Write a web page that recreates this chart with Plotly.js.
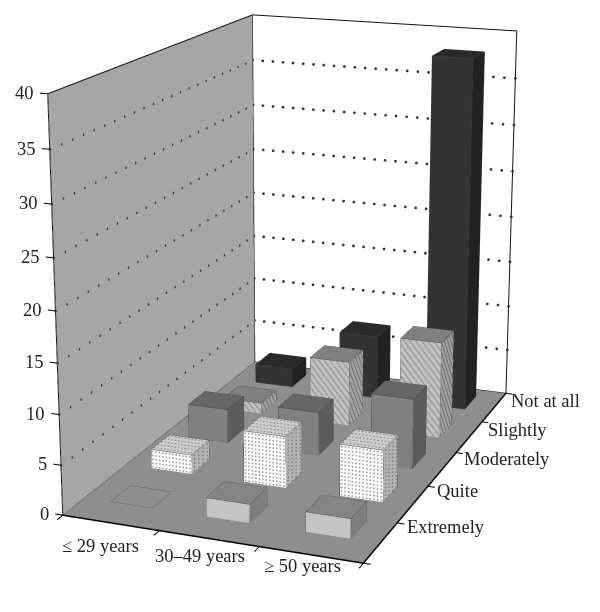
<!DOCTYPE html>
<html><head><meta charset="utf-8">
<script src="https://cdn.plot.ly/plotly-3.0.1.min.js"></script>
<style>html,body{margin:0;background:#fff;overflow:hidden;width:600px;height:612px}#w{position:absolute;left:0;top:0;width:600px;height:612px;overflow:hidden}#c{position:absolute;left:-508px;top:-566px;width:1620px;height:1652px}</style></head>
<body><div id="w"><div id="c"></div></div>
<script>
const ages = ['≤ 29 years','30–49 years','≥ 50 years'];
const levels = ['Extremely','Quite','Moderately','Slightly','Not at all'];
const extremely = [0, 1.9, 2];
const quite = [2, 5.3, 5.3];
const moderately = [3.6, 4.6, 7.3];
const slightly = [1.2, 7, 10.3];
const notAtAll = [2.1, 7, 38];
const zTicks = [0,5,10,15,20,25,30,35,40];
const series = [extremely, quite, moderately, slightly, notAtAll];
const faceFront = ['#c4c4c4','#fbfbfb','#808080','#c0c0c0','#333333'];
const faceSide  = ['#7e7e7e','#b4b4b4','#5c5c5c','#a0a0a0','#222222'];
const faceTop   = ['#858585','#cccccc','#666666','#808080','#2a2a2a'];
const fx = 0.44, fy = 0.45, zMax = 40, nx = 3, ny = 5;

const traces = [];
function quad(p, color){
  traces.push({type:'mesh3d', x:p.map(a=>a[0]), y:p.map(a=>a[1]), z:p.map(a=>a[2]),
    i:[0,0], j:[1,2], k:[2,3], color:color, flatshading:true,
    lighting:{ambient:1,diffuse:0,specular:0,roughness:1,fresnel:0}, hoverinfo:'skip', showscale:false});
}
function line(pts, color, width){
  traces.push({type:'scatter3d', mode:'lines', x:pts.map(a=>a?a[0]:null), y:pts.map(a=>a?a[1]:null), z:pts.map(a=>a?a[2]:null),
    line:{color:color,width:width}, hoverinfo:'skip', showlegend:false});
}
function pts(list,color,size){
  traces.push({type:'scatter3d',mode:'markers',x:list.map(a=>a[0]),y:list.map(a=>a[1]),z:list.map(a=>a[2]),
    marker:{size:size,color:color,line:{width:0}},hoverinfo:'skip',showlegend:false});
}
function dots(a,b,n){
  const l=[];
  for(let k=0;k<=n;k++){const f=k/n; l.push([a[0]+(b[0]-a[0])*f,a[1]+(b[1]-a[1])*f,a[2]+(b[2]-a[2])*f]);}
  pts(l,'#333',1.6);
}
function stipple(o,u,v,nu,nv,color,size){
  const l=[];
  for(let a=0;a<nu;a++)for(let b=0;b<nv;b++){
    const s=(a+0.5)/nu,t=(b+0.5)/nv;
    l.push([o[0]+u[0]*s+v[0]*t,o[1]+u[1]*s+v[1]*t,o[2]+u[2]*s+v[2]*t]);
  }
  pts(l,color,size);
}
function hatch(o,u,v,lenU,lenV,pitch,color,width){
  const segs=[];
  const total=lenU+lenV;
  for(let d=pitch/2;d<total;d+=pitch){
    const a=[Math.max(0,(d-lenV))/lenU, Math.min(1,d/lenV)];
    const b=[Math.min(1,d/lenU), Math.max(0,(d-lenU))/lenV];
    [a,b].forEach(q=>segs.push([o[0]+u[0]*q[0]+v[0]*q[1],o[1]+u[1]*q[0]+v[1]*q[1],o[2]+u[2]*q[0]+v[2]*q[1]]));
    segs.push(null);
  }
  line(segs,color,width);
}
quad([[0,0,0],[0,ny,0],[0,ny,zMax],[0,0,zMax]], '#a6a6a6');
quad([[0,0,0],[nx,0,0],[nx,ny,0],[0,ny,0]], '#8e8e8e');
zTicks.slice(1,-1).forEach(t=>{
  dots([0,0,t],[0,ny,t],22);
  dots([0,ny,t],[nx,ny,t],25);
});
line([[0,0,0],[nx,0,0],[nx,ny,0]], '#000', 3);
line([[0,0,0],[0,ny,0]], '#000', 3);
line([[0,0,0],[0,0,zMax],[0,ny,zMax],[nx,ny,zMax],[nx,ny,0]], '#111', 2);
line([[0,ny,0],[0,ny,zMax]], '#111', 2);
line([[0,ny,0],[nx,ny,0]], '#111', 2);
zTicks.forEach(t=>line([[0,0,t],[-0.08,0,t]], '#000', 2));
for(let i=0;i<=nx;i++) line([[i,0,0],[i,-0.12,0]], '#000', 2);
for(let j=0;j<=ny;j++) line([[nx,j,0],[nx+0.07,j,0]], '#000', 2);
for(let j=ny-1;j>=0;j--) for(let i=0;i<nx;i++){
  const h = series[j][i];
  const yc = j+0.5+0.2-0.04*j;
  const x0=i+0.5-fx/2, x1=i+0.5+fx/2, y0=yc-fy/2, y1=yc+fy/2;
  if(h>0){
    quad([[x0,y0,0],[x1,y0,0],[x1,y0,h],[x0,y0,h]], faceFront[j]);
    quad([[x1,y0,0],[x1,y1,0],[x1,y1,h],[x1,y0,h]], faceSide[j]);
    quad([[x0,y0,h],[x1,y0,h],[x1,y1,h],[x0,y1,h]], faceTop[j]);
    const e=0.004;
    if(j===1){
      stipple([x0,y0-e,0],[fx,0,0],[0,0,h],12,Math.round(h*2.6),'#999',1);
      stipple([x0,y0,h+0.03],[fx,0,0],[0,fy,0],12,5,'#888',1);
      stipple([x1+e,y0,0],[0,fy,0],[0,0,h],4,Math.round(h*2.6),'#777',1);
    }
    if(j===3){
      hatch([x0,y0-e,0],[fx,0,0],[0,0,h],fx,h/12,0.07,'#8e8e8e',2);
      hatch([x1+e,y0,0],[0,fy,0],[0,0,h],fy,h/12,0.09,'#6a6a6a',2);
    }
  }
  const ec='#444';
  line([[x0,y0,h],[x1,y0,h],[x1,y1,h],[x0,y1,h],[x0,y0,h]], ec, 1);
  if(h>0){
    line([[x0,y0,0],[x1,y0,0],[x1,y1,0]], ec, 1);
    line([[x0,y0,0],[x0,y0,h]], ec, 1);
    line([[x1,y0,0],[x1,y0,h]], ec, 1);
    line([[x1,y1,0],[x1,y1,h]], ec, 1);
  }
}
const font={family:'Liberation Serif, serif',size:18.5,color:'#222'};
const annotations=[];
zTicks.forEach(t=>annotations.push({x:-0.08,y:0,z:t,text:String(t),showarrow:false,xanchor:'right',yanchor:'middle',xshift:-4,font}));
ages.forEach((a,i)=>annotations.push({x:i+0.5,y:-0.15,z:0,text:a,showarrow:false,xanchor:'center',yanchor:'top',xshift:-3,yshift:-5+6*i,font}));
levels.forEach((l,j)=>annotations.push({x:nx+0.12,y:j+0.5,z:0,text:l,showarrow:false,xanchor:'left',yanchor:'middle',xshift:4+(4-j)*2,yshift:8+Math.max(0,3-j)*3.3,font}));
const noAxis={visible:false,showspikes:false};
const layout={width:1620,height:1652,margin:{l:0,r:0,t:0,b:0},paper_bgcolor:'#fff',showlegend:false,
  scene:{domain:{x:[0,1],y:[0,1]},bgcolor:'#fff',
    xaxis:{...noAxis,range:[-0.2,nx+0.2]},
    yaxis:{...noAxis,range:[-0.2,ny+0.2]},
    zaxis:{...noAxis,range:[0,zMax]},
    aspectmode:'manual',aspectratio:{x:0.616,y:0.934,z:0.731},
    camera:{eye:{x:1.238,y:-3.231,z:0.99},center:{x:0,y:0,z:0},up:{x:0,y:0,z:1}},
    annotations}};
Plotly.newPlot('c',traces,layout,{displayModeBar:false});
</script></body></html>
